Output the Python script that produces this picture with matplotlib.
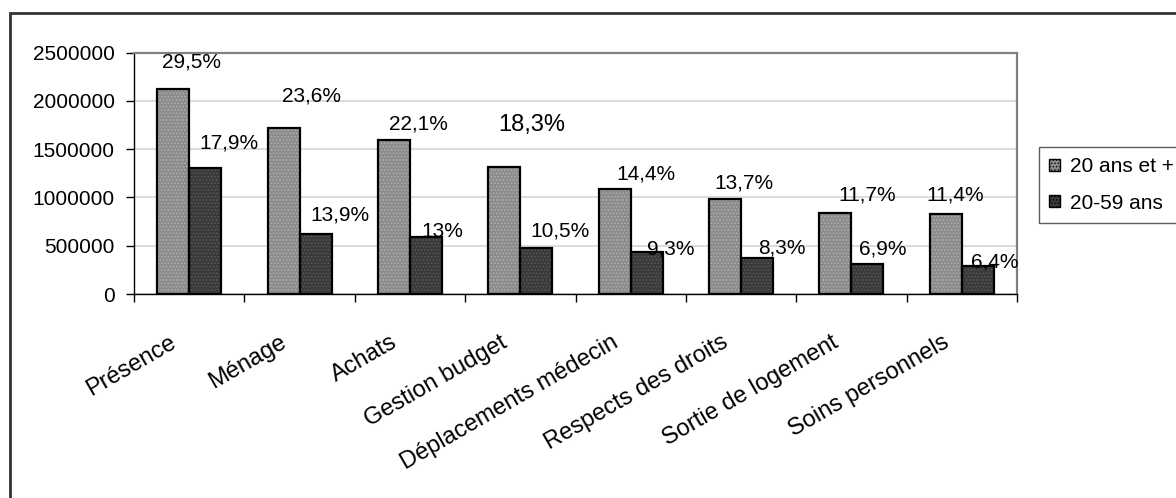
import matplotlib.pyplot as plt
from matplotlib.patches import Rectangle
from matplotlib.ticker import FixedLocator, FuncFormatter
from matplotlib.transforms import ScaledTranslation
import numpy as np

plt.rcParams['font.family'] = ['Liberation Sans', 'DejaVu Sans']
plt.rcParams['hatch.linewidth'] = 0.6

categories = ['Présence', 'Ménage', 'Achats', 'Gestion budget',
              'Déplacements médecin', 'Respects des droits',
              'Sortie de logement', 'Soins personnels']
series_names = ['20 ans et +', '20-59 ans']
all_ages = [2127000, 1717000, 1595000, 1319000, 1091000, 987000, 842000, 826000]
age_20_59 = [1302000, 618000, 594000, 473000, 432000, 370000, 308000, 290000]
pct_all = ['29,5%', '23,6%', '22,1%', '18,3%', '14,4%', '13,7%', '11,7%', '11,4%']
pct_20_59 = ['17,9%', '13,9%', '13%', '10,5%', '9,3%', '8,3%', '6,9%', '6,4%']

# where each percentage sits relative to the top of its bar (pixels)
off_all = [(18, 27), (28, 32), (25, 16), (27, 42), (31, 15), (19, 16), (32, 18), (9, 19)]
off_20_59 = [(24, 25), (24, 19), (16, 5), (24, 17), (24, 3), (25, 10), (15, 15), (17, 4)]

fs = 15

fig = plt.figure(figsize=(11.76, 4.98), dpi=100)
ax = fig.add_axes([134 / 1176, 1 - 294 / 498, (1017 - 134) / 1176, (294 - 52.7) / 498])

x = np.arange(len(categories))
w = 0.29
styles = [('#8c8c8c', '#b4b4b4'), ('#3a3a3a', '#5c5c5c')]
for vals, shift, (face, dots) in zip([all_ages, age_20_59], [-w / 2, w / 2], styles):
    ax.bar(x + shift, vals, w, color=face, edgecolor=dots, hatch='.....', linewidth=0, zorder=2)
    ax.bar(x + shift, vals, w, fill=False, edgecolor='black', linewidth=1.6, zorder=3)

for vals, shift, labels, offs, in [(all_ages, -w / 2, pct_all, off_all),
                                   (age_20_59, w / 2, pct_20_59, off_20_59)]:
    for i, (v, lab, (dx, dy)) in enumerate(zip(vals, labels, offs)):
        size = 17 if lab == '18,3%' else fs
        ax.annotate(lab, (x[i] + shift, v), xytext=(dx, dy), textcoords='offset pixels',
                    ha='center', va='center', fontsize=size, zorder=4)

ax.set_xlim(-0.5, len(categories) - 0.5)
ax.set_ylim(0, 2500000)
ax.yaxis.set_major_locator(FixedLocator(range(0, 2500001, 500000)))
ax.yaxis.set_major_formatter(FuncFormatter(lambda v, p: f'{int(v)}'))
ax.grid(axis='y', color='#d6d6d6', linewidth=1.2, zorder=0)
ax.set_axisbelow(True)

ax.set_xticks(x)
ax.set_xticklabels(categories, rotation=30, ha='right', va='top', rotation_mode='anchor')
ax.set_xticks(np.arange(-0.5, len(categories), 1), minor=True)
ax.tick_params(axis='x', which='major', length=0, pad=27, labelsize=17)
ax.tick_params(axis='x', which='minor', length=6, width=1, direction='out')
ax.tick_params(axis='y', length=6, width=1, direction='out', labelsize=fs, pad=8)

# nudge the slanted category names a little to the left of their slot
nudge = ScaledTranslation(-20 / 100, 0, fig.dpi_scale_trans)
for lab in ax.get_xticklabels():
    lab.set_transform(lab.get_transform() + nudge)

for side in ['top', 'right']:
    ax.spines[side].set_color('#808080')
    ax.spines[side].set_linewidth(1.6)
for side in ['left', 'bottom']:
    ax.spines[side].set_color('black')
    ax.spines[side].set_linewidth(1)

handles = [Rectangle((0, 0), 1, 1, facecolor=s[0], edgecolor='black', hatch='.....', linewidth=1)
           for s in styles]
leg = fig.legend(handles, series_names, loc='upper left',
                 bbox_to_anchor=(1039 / 1176, 1 - 146.7 / 498), fontsize=fs,
                 frameon=True, fancybox=False, edgecolor='#333333',
                 handlelength=0.5, handleheight=0.5, handletextpad=0.5,
                 labelspacing=0.85, borderpad=0.5, borderaxespad=0)
leg.get_frame().set_linewidth(1)

# outer chart frame, running off the right and bottom edges
fig.patches.append(Rectangle((10 / 1176, -0.1), 1.2, 1 - 13 / 498 + 0.1,
                             transform=fig.transFigure, fill=False,
                             edgecolor='#333333', linewidth=2))

fig.savefig('out.png', dpi=100)
